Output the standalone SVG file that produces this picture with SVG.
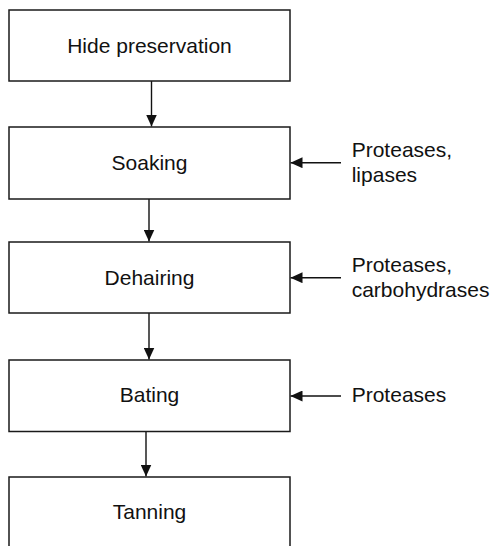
<svg xmlns="http://www.w3.org/2000/svg" width="494" height="546" viewBox="0 0 494 546">
  <style>
    .box { fill: #ffffff; stroke: #1a1a1a; stroke-width: 1.5; }
    .label { font-family: "Liberation Sans", Arial, Helvetica, sans-serif; font-size: 21px; fill: #111111; }
    .mid { text-anchor: middle; }
    .edge { stroke: #111111; stroke-width: 1.4; fill: none; marker-end: url(#head); }
  </style>
  <defs>
    <marker id="head" viewBox="0 0 12 11" refX="12" refY="5.5" markerWidth="12" markerHeight="11" markerUnits="userSpaceOnUse" orient="auto">
      <path d="M0,0 L12,5.5 L0,11 Z" fill="#111111"/>
    </marker>
  </defs>
  <rect width="494" height="546" fill="#ffffff"/>

  <g id="connectors">
    <line class="edge" x1="151.5" y1="81" x2="151.5" y2="126.5"/>
    <line class="edge" x1="149" y1="199" x2="149" y2="241.5"/>
    <line class="edge" x1="149" y1="313" x2="149" y2="359.5"/>
    <line class="edge" x1="146" y1="431.5" x2="146" y2="476.5"/>
    <line class="edge" x1="341" y1="162.7" x2="290.5" y2="162.7"/>
    <line class="edge" x1="341" y1="277.7" x2="290.5" y2="277.7"/>
    <line class="edge" x1="341" y1="396" x2="290.5" y2="396"/>
  </g>

  <g id="hide-preservation">
    <rect class="box" x="9" y="10" width="281" height="71"/>
    <text class="label mid" x="149.5" y="52.7">Hide preservation</text>
  </g>
  <g id="soaking">
    <rect class="box" x="9" y="127" width="281" height="72"/>
    <text class="label mid" x="149.5" y="169.5">Soaking</text>
  </g>
  <g id="dehairing">
    <rect class="box" x="9" y="242" width="281" height="71"/>
    <text class="label mid" x="149.5" y="284.5">Dehairing</text>
  </g>
  <g id="bating">
    <rect class="box" x="9" y="360" width="281" height="71.5"/>
    <text class="label mid" x="149.5" y="402.3">Bating</text>
  </g>
  <g id="tanning">
    <rect class="box" x="9" y="477" width="281" height="80"/>
    <text class="label mid" x="149.5" y="519.3">Tanning</text>
  </g>

  <g id="soaking-enzymes">
    <text class="label" x="351.7" y="157.3">Proteases,</text>
    <text class="label" x="351.7" y="181.7">lipases</text>
  </g>
  <g id="dehairing-enzymes">
    <text class="label" x="351.7" y="271.7">Proteases,</text>
    <text class="label" x="351.7" y="296.7">carbohydrases</text>
  </g>
  <g id="bating-enzymes">
    <text class="label" x="351.7" y="401.7">Proteases</text>
  </g>
</svg>
